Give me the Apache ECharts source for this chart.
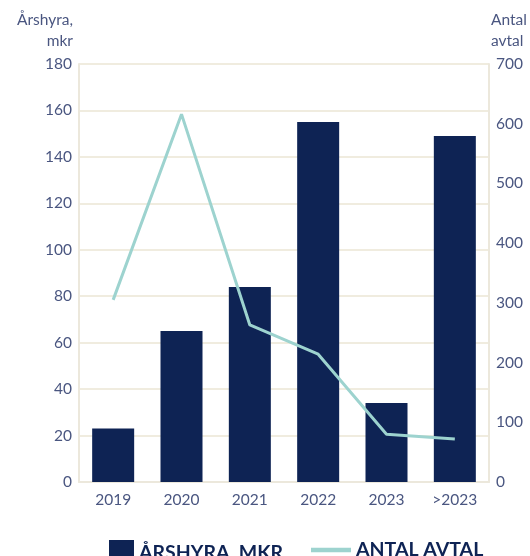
<!DOCTYPE html>
<html><head><meta charset="utf-8">
<script src="https://cdn.jsdelivr.net/npm/echarts@6/dist/echarts.min.js"></script>
<style>html,body{margin:0;padding:0;background:#fff}#c{width:530px;height:556px}</style>
</head><body><div id="c"></div>
<script>
const categories = ['2019','2020','2021','2022','2023','>2023'];
const rentValues = [23, 65, 84, 155, 34, 149];
const contractValues = [305, 616, 263, 214, 80, 72];
const leftName = 'Årshyra,\nmkr';
const rightName = 'Antal\navtal';
const barName = 'ÅRSHYRA, MKR';
const lineName = 'ANTAL AVTAL';

const txt = '#4a5680';
const font = 'Lato';
const chart = echarts.init(document.getElementById('c'));
chart.setOption({
  animation: false,
  grid: {left: 79, right: 41, top: 64, bottom: 74},
  legend: [
    {data: [barName], left: 104, top: 535, itemWidth: 25, itemHeight: 25, itemGap: 7,
     icon: 'rect', textStyle: {color: '#0e2354', fontFamily: font, fontWeight: 'bold', fontSize: 19.5, padding: [4, 0, 0, 0]}},
    {data: [lineName], left: 306, top: 535, itemWidth: 40, itemHeight: 25, itemGap: 7,
     icon: 'path://M0,11.5 L40,11.5 L40,16 L0,16 Z', textStyle: {color: '#0e2354', fontFamily: font, fontWeight: 'bold', fontSize: 19.5, padding: [4, 0, 0, 0]}}
  ],
  xAxis: {
    type: 'category', data: categories,
    axisLine: {lineStyle: {color: '#ece8dc', width: 2}},
    axisTick: {inside: true, length: 8, lineStyle: {color: '#ece8dc', width: 2}},
    axisLabel: {color: txt, fontFamily: font, fontSize: 15.5, margin: 10}
  },
  yAxis: [
    {type: 'value', min: 0, max: 180, interval: 20, name: leftName, nameLocation: 'end', nameGap: 13,
     nameTextStyle: {color: txt, fontFamily: font, fontSize: 15.5, align: 'right', padding: [0, 6, 0, 0], lineHeight: 21},
     axisLine: {show: true, lineStyle: {color: '#ece8dc', width: 2}},
     splitLine: {lineStyle: {color: '#f0ecdf', width: 2}},
     axisLabel: {color: txt, fontFamily: font, fontSize: 15.5, margin: 7}},
    {type: 'value', min: 0, max: 700, interval: 100, name: rightName, nameLocation: 'end', nameGap: 13,
     nameTextStyle: {color: txt, fontFamily: font, fontSize: 15.5, align: 'left', padding: [0, 0, 0, 2], lineHeight: 21},
     axisLine: {show: true, lineStyle: {color: '#ece8dc', width: 2}},
     splitLine: {show: false},
     axisLabel: {color: txt, fontFamily: font, fontSize: 15.5, margin: 7}}
  ],
  series: [
    {name: barName, type: 'bar', data: rentValues, barWidth: 42, itemStyle: {color: '#0e2354'}},
    {name: lineName, type: 'line', yAxisIndex: 1, data: contractValues, symbol: 'none',
     lineStyle: {color: '#9dd3cf', width: 3}, itemStyle: {color: '#9dd3cf'}}
  ]
});
</script></body></html>
